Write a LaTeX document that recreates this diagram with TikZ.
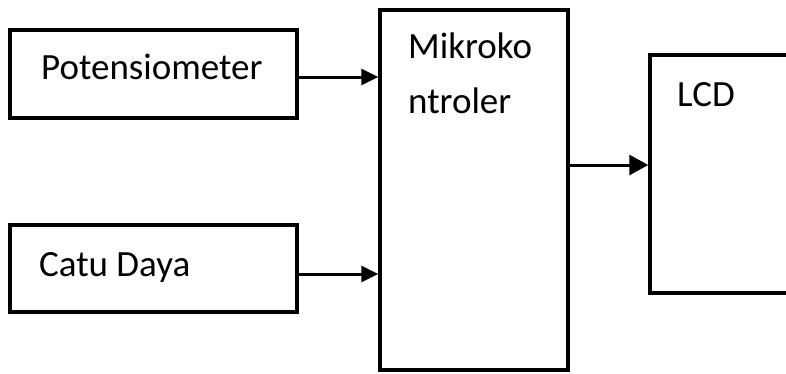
\documentclass[tikz,border=0pt]{standalone}
\usepackage{fontspec}
\setmainfont{Carlito}
\usetikzlibrary{arrows.meta}

\begin{document}
\begin{tikzpicture}[x=1pt, y=-1pt,
  box/.style={draw, line width=3.5pt, inner sep=0pt},
  txt/.style={anchor=base west, inner sep=0pt, font=\fontsize{37}{55}\selectfont},
  inarr/.style={line width=3pt, -{Triangle[length=17pt, width=16pt]}},
  outarr/.style={line width=3pt, -{Triangle[length=19pt, width=20pt]}}]
  \useasboundingbox (0,0) rectangle (786,373);

  \node[box, minimum width=287pt, minimum height=88pt] (pot) at (153.5, 74) {};
  \node[txt] (potl) at (41, 79) {Potensiometer};

  \node[box, minimum width=287pt, minimum height=87pt] (catu) at (153.5, 268.5) {};
  \node[txt] (catul) at (39, 276) {Catu Daya};

  \node[box, minimum width=188pt, minimum height=360pt] (mikro) at (474, 190) {};
  \node[txt] (mikrol1) at (408, 58) {Mikroko};
  \node[txt] (mikrol2) at (408, 113) {ntroler};

  \node[box, minimum width=138pt, minimum height=238pt] (lcd) at (719, 174) {};
  \node[txt] (lcdl) at (677, 106) {LCD};

  \draw[inarr] ([yshift=-3pt]pot.east) -- ([yshift=-3pt]pot.east -| mikro.west);
  \draw[inarr] ([yshift=-5.5pt]catu.east) -- ([yshift=-5.5pt]catu.east -| mikro.west);
  \draw[outarr] ([yshift=9pt]lcd.west -| mikro.east) -- ([yshift=9pt]lcd.west);
\end{tikzpicture}
\end{document}
